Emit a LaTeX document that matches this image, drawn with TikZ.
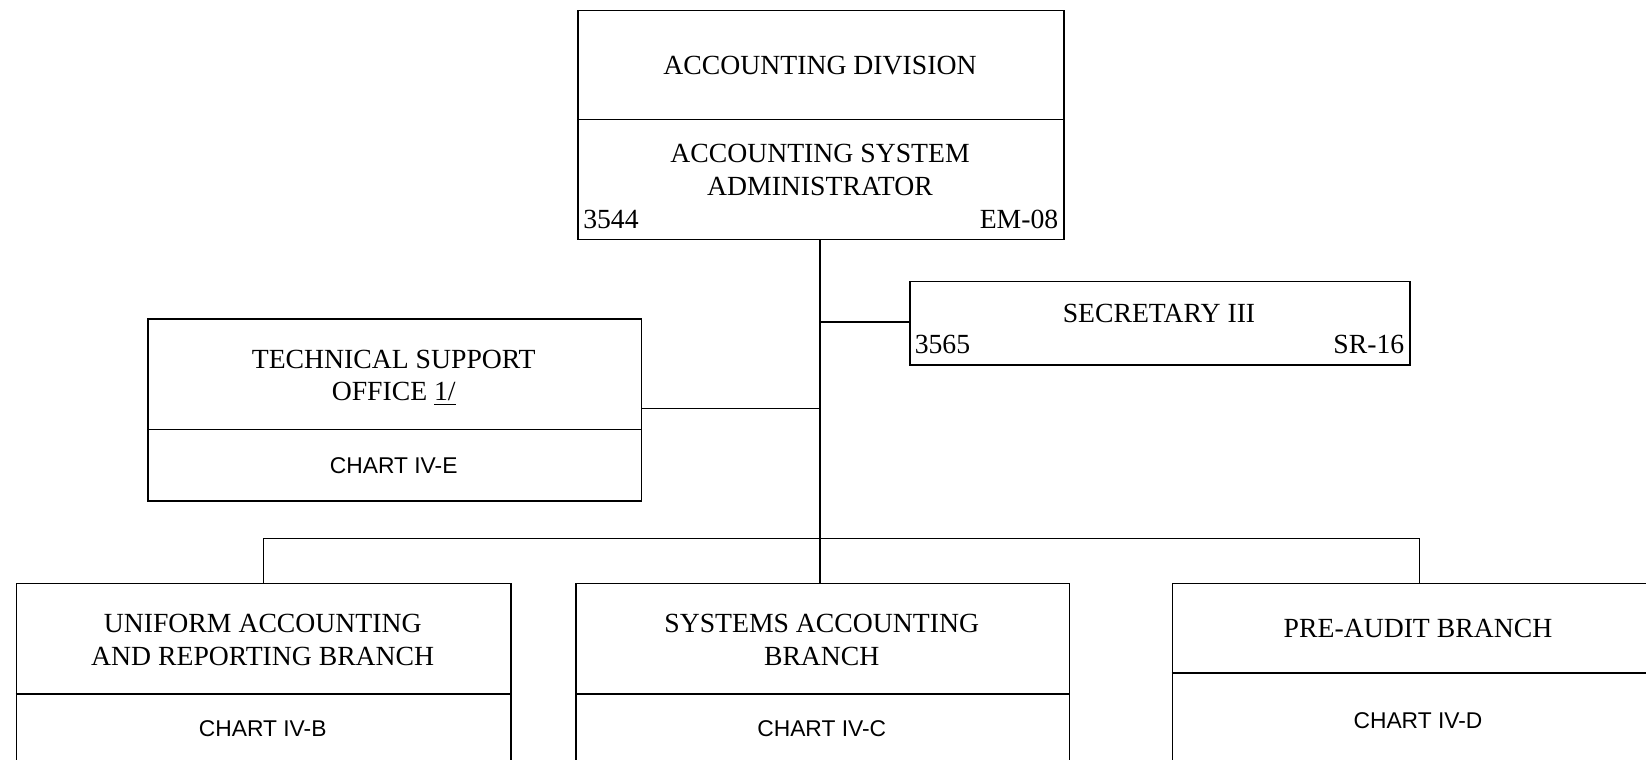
\documentclass[tikz,border=0pt]{standalone}
\usepackage{fontspec}
\setmainfont{Liberation Serif}
\newfontfamily\chartfont{Liberation Sans}
\begin{document}
\begin{tikzpicture}[x=0.5pt,y=-0.5pt, line width=0.75pt,
 box/.style={draw, rectangle, inner sep=0pt, anchor=north west},
 title/.style={font=\fontsize{13.85}{16.4}\selectfont, align=center, inner sep=0pt},
 code/.style={font=\fontsize{13.85}{16.4}\selectfont, inner sep=0pt},
 chart/.style={font=\chartfont\fontsize{11.4}{14}\selectfont, inner sep=0pt},
 link/.style={draw}]
\useasboundingbox (0,0) rectangle (1646,760);
\clip (0,0) rectangle (1646,760);
% boxes
\node[box, minimum width=243pt, minimum height=114.5pt] (top) at (577,9.5) {};
\node[box, minimum width=250pt, minimum height=41.75pt] (sec) at (909,280.5) {};
\node[box, minimum width=246.75pt, minimum height=91pt] (tech) at (147,318) {};
\node[box, minimum width=247.25pt, minimum height=110pt] (uar) at (15.5,582.5) {};
\node[box, minimum width=246.75pt, minimum height=110pt] (sab) at (575,582.5) {};
\node[box, minimum width=247pt, minimum height=110pt] (pab) at (1171.5,582.5) {};
% dividers
\draw (top.west |- 0,119.5) -- (top.east |- 0,119.5);
\draw (tech.west |- 0,429.5) -- (tech.east |- 0,429.5);
\draw (uar.west |- 0,694) -- (uar.east |- 0,694);
\draw (sab.west |- 0,694) -- (sab.east |- 0,694);
\draw (pab.west |- 0,673) -- (pab.east |- 0,673);
% texts
\node[title] (t1) at (820,66) {ACCOUNTING DIVISION};
\node[title] (t2) at (820,170) {ACCOUNTING SYSTEM\\ADMINISTRATOR};
\node[code, anchor=west] (n1) at (582.5,219.5) {3544};
\node[code, anchor=east] (g1) at (1059,219.5) {EM-08};
\node[title] (t3) at (1159,313) {SECRETARY III};
\node[code, anchor=west] (n2) at (914,344.3) {3565};
\node[code, anchor=east] (g2) at (1405,344.3) {SR-16};
\node[title] (t4) at (393.75,377.5) {TECHNICAL SUPPORT\\OFFICE \underline{1/}};
\node[chart] (c4) at (393.75,465.5) {CHART IV-E};
\node[title] (t5) at (262.75,640) {UNIFORM ACCOUNTING\\AND REPORTING BRANCH};
\node[chart] (c5) at (262.75,729) {CHART IV-B};
\node[title] (t6) at (821.75,640) {SYSTEMS ACCOUNTING\\BRANCH};
\node[chart] (c6) at (821.75,729) {CHART IV-C};
\node[title] (t7) at (1418,628.5) {PRE-AUDIT BRANCH};
\node[chart] (c7) at (1418,720.5) {CHART IV-D};
% connectors
\coordinate (bus) at (820,538.5);
\coordinate (jsec) at (820,322);
\coordinate (jtech) at (820,408.5);
\draw[link] (top.south -| bus) -- (bus);
\draw[link] (jsec) -- (sec.west |- jsec);
\draw[link] (tech.east |- jtech) -- (jtech);
\draw[link] (uar.north) -- (uar.north |- bus) -- (pab.north |- bus) -- (pab.north);
\draw[link] (bus) -- (sab.north -| bus);
\end{tikzpicture}
\end{document}
